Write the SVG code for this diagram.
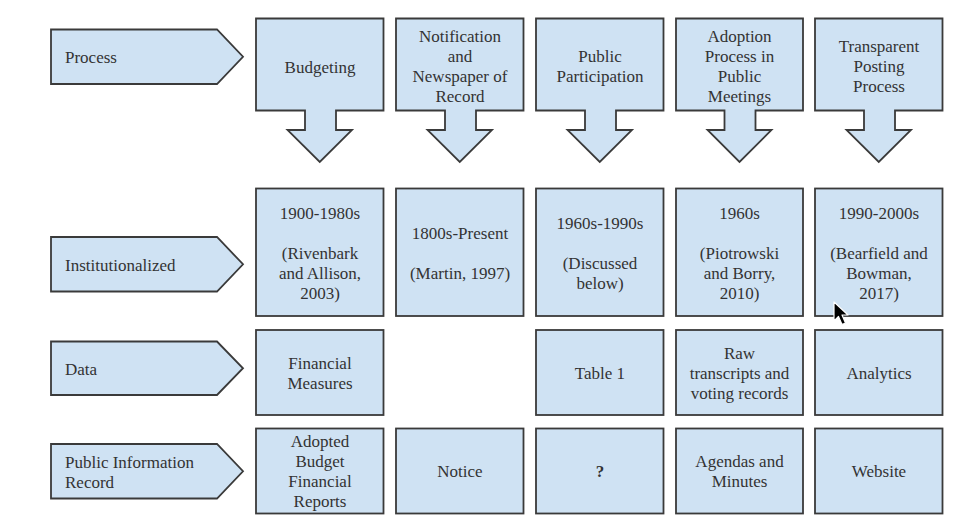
<svg xmlns="http://www.w3.org/2000/svg" width="955" height="531" viewBox="0 0 955 531">
<style>
.s{fill:#cfe2f3;stroke:#3a3a3a;stroke-width:1.8;stroke-linejoin:miter}
.t{font-family:"Liberation Serif","Times New Roman",serif;font-size:17px;fill:#333}
.c{text-anchor:middle}
.b{font-weight:bold}
</style>
<rect width="955" height="531" fill="#ffffff"/>
<g id="connectors"/>

<!-- Row labels (pentagons) -->
<g id="label-process">
<polygon class="s" points="51,29.5 217,29.5 243,56.75 217,84 51,84"/>
<text class="t" x="65" y="63">Process</text>
</g>
<g id="label-institutionalized">
<polygon class="s" points="51,237 217,237 243,264.25 217,291.5 51,291.5"/>
<text class="t" x="65" y="270.5">Institutionalized</text>
</g>
<g id="label-data">
<polygon class="s" points="51,341.5 217,341.5 243,368.25 217,395 51,395"/>
<text class="t" x="65" y="375">Data</text>
</g>
<g id="label-public-info">
<polygon class="s" points="51,444 217,444 243,471.25 217,498.5 51,498.5"/>
<text class="t" x="65" y="468">Public Information</text>
<text class="t" x="65" y="488">Record</text>
</g>

<!-- Process row: boxes with down arrows -->
<g id="proc-budgeting">
<path class="s" d="M256,18.5 H383.5 V110.5 H336 V130 H352 L319.75,162 L287.5,130 H305 V110.5 H256 Z"/>
<text class="t c" x="320" y="72.5">Budgeting</text>
</g>
<g id="proc-notification">
<path class="s" d="M396,18.5 H523.5 V110.5 H476 V130 H492 L459.75,162 L427.5,130 H445 V110.5 H396 Z"/>
<text class="t c" x="460" y="41.5">Notification</text>
<text class="t c" x="460" y="61.5">and</text>
<text class="t c" x="460" y="81.5">Newspaper of</text>
<text class="t c" x="460" y="101.5">Record</text>
</g>
<g id="proc-participation">
<path class="s" d="M536,18.5 H663.5 V110.5 H616 V130 H632 L599.75,162 L567.5,130 H585 V110.5 H536 Z"/>
<text class="t c" x="600" y="61.5">Public</text>
<text class="t c" x="600" y="81.5">Participation</text>
</g>
<g id="proc-adoption">
<path class="s" d="M676,18.5 H803 V110.5 H755.5 V130 H771.5 L739.5,162 L707.5,130 H724.5 V110.5 H676 Z"/>
<text class="t c" x="739.5" y="41.5">Adoption</text>
<text class="t c" x="739.5" y="61.5">Process in</text>
<text class="t c" x="739.5" y="81.5">Public</text>
<text class="t c" x="739.5" y="101.5">Meetings</text>
</g>
<g id="proc-transparent">
<path class="s" d="M815,18.5 H942.5 V110.5 H895 V130 H911 L878.75,162 L846.5,130 H864 V110.5 H815 Z"/>
<text class="t c" x="879" y="51.5">Transparent</text>
<text class="t c" x="879" y="71.5">Posting</text>
<text class="t c" x="879" y="91.5">Process</text>
</g>

<!-- Institutionalized row -->
<g id="inst-budgeting">
<rect class="s" x="256" y="188.5" width="127.5" height="127.5"/>
<text class="t c" x="320" y="218.5">1900-1980s</text>
<text class="t c" x="320" y="258.5">(Rivenbark</text>
<text class="t c" x="320" y="278.5">and Allison,</text>
<text class="t c" x="320" y="298.5">2003)</text>
</g>
<g id="inst-notification">
<rect class="s" x="396" y="188.5" width="127.5" height="127.5"/>
<text class="t c" x="460" y="238.5">1800s-Present</text>
<text class="t c" x="460" y="278.5">(Martin, 1997)</text>
</g>
<g id="inst-participation">
<rect class="s" x="536" y="188.5" width="127.5" height="127.5"/>
<text class="t c" x="600" y="228.5">1960s-1990s</text>
<text class="t c" x="600" y="268.5">(Discussed</text>
<text class="t c" x="600" y="288.5">below)</text>
</g>
<g id="inst-adoption">
<rect class="s" x="676" y="188.5" width="127" height="127.5"/>
<text class="t c" x="739.5" y="218.5">1960s</text>
<text class="t c" x="739.5" y="258.5">(Piotrowski</text>
<text class="t c" x="739.5" y="278.5">and Borry,</text>
<text class="t c" x="739.5" y="298.5">2010)</text>
</g>
<g id="inst-transparent">
<rect class="s" x="815" y="188.5" width="127.5" height="127.5"/>
<text class="t c" x="879" y="218.5">1990-2000s</text>
<text class="t c" x="879" y="258.5">(Bearfield and</text>
<text class="t c" x="879" y="278.5">Bowman,</text>
<text class="t c" x="879" y="298.5">2017)</text>
</g>

<!-- Data row -->
<g id="data-budgeting">
<rect class="s" x="256" y="330" width="127.5" height="85"/>
<text class="t c" x="320" y="369">Financial</text>
<text class="t c" x="320" y="389">Measures</text>
</g>
<g id="data-participation">
<rect class="s" x="536" y="330" width="127.5" height="85"/>
<text class="t c" x="600" y="379">Table 1</text>
</g>
<g id="data-adoption">
<rect class="s" x="676" y="330" width="127" height="85"/>
<text class="t c" x="739.5" y="359">Raw</text>
<text class="t c" x="739.5" y="379">transcripts and</text>
<text class="t c" x="739.5" y="399">voting records</text>
</g>
<g id="data-transparent">
<rect class="s" x="815" y="330" width="127.5" height="85"/>
<text class="t c" x="879" y="379">Analytics</text>
</g>

<!-- Public Information Record row -->
<g id="pir-budgeting">
<rect class="s" x="256" y="428.5" width="127.5" height="85"/>
<text class="t c" x="320" y="447">Adopted</text>
<text class="t c" x="320" y="467">Budget</text>
<text class="t c" x="320" y="487">Financial</text>
<text class="t c" x="320" y="507">Reports</text>
</g>
<g id="pir-notification">
<rect class="s" x="396" y="428.5" width="127.5" height="85"/>
<text class="t c" x="460" y="477">Notice</text>
</g>
<g id="pir-participation">
<rect class="s" x="536" y="428.5" width="127.5" height="85"/>
<text class="t c b" x="600" y="477">?</text>
</g>
<g id="pir-adoption">
<rect class="s" x="676" y="428.5" width="127" height="85"/>
<text class="t c" x="739.5" y="467">Agendas and</text>
<text class="t c" x="739.5" y="487">Minutes</text>
</g>
<g id="pir-transparent">
<rect class="s" x="815" y="428.5" width="127.5" height="85"/>
<text class="t c" x="879" y="477">Website</text>
</g>

<!-- mouse pointer visible in the screenshot -->
<path d="M834,302 L834,321 L838.5,316.5 L842,324.5 L845.5,323 L842,315 L848,315 Z" fill="#000" stroke="#fff" stroke-width="1.2" stroke-linejoin="round"/>
</svg>
